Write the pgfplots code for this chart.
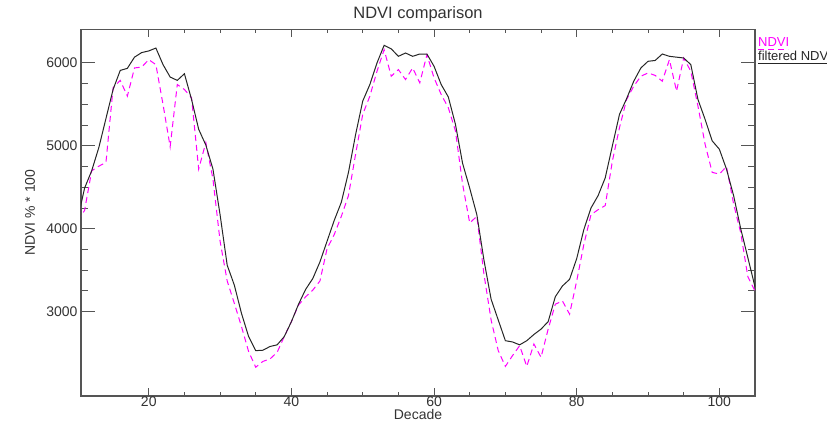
\documentclass[border=0pt]{standalone}
\usepackage{pgfplots}
\pgfplotsset{compat=1.18}
\usepackage{fontspec}
\setmainfont{Liberation Sans}
\definecolor{axgray}{RGB}{85,85,85}
\definecolor{ndvimag}{RGB}{255,0,255}

% filtered NDVI (black line)
\pgfplotstableread{
x y
10 4100
11 4490
12 4700
13 4980
14 5330
15 5680
16 5910
17 5935
18 6070
19 6125
20 6145
21 6180
22 5980
23 5830
24 5790
25 5870
26 5560
27 5200
28 5010
29 4720
30 4170
31 3560
32 3320
33 2980
34 2700
35 2530
36 2535
37 2580
38 2600
39 2700
40 2880
41 3090
42 3270
43 3400
44 3600
45 3850
46 4100
47 4320
48 4680
49 5136
50 5540
51 5740
52 6000
53 6213
54 6170
55 6080
56 6120
57 6080
58 6108
59 6108
60 5960
61 5740
62 5590
63 5260
64 4790
65 4490
66 4170
67 3620
68 3150
69 2900
70 2650
71 2635
72 2600
73 2650
74 2725
75 2790
76 2880
77 3180
78 3310
79 3390
80 3640
81 3990
82 4250
83 4400
84 4614
85 5000
86 5380
87 5570
88 5780
89 5940
90 6020
91 6030
92 6108
93 6080
94 6070
95 6060
96 5980
97 5560
98 5320
99 5060
100 4960
101 4720
102 4400
103 4000
104 3650
105 3300
}\filtered

% raw NDVI (magenta dashed)
\pgfplotstableread{
x y
10 4100
11 4220
12 4700
13 4755
14 4800
15 5700
16 5790
17 5600
18 5940
19 5950
20 6040
21 5980
22 5500
23 4990
24 5740
25 5680
26 5580
27 4720
28 5040
29 4600
30 3850
31 3370
32 3100
33 2820
34 2520
35 2330
36 2400
37 2430
38 2510
39 2700
40 2880
41 3080
42 3180
43 3260
44 3370
45 3760
46 3930
47 4150
48 4400
49 4900
50 5380
51 5600
52 5900
53 6160
54 5840
55 5920
56 5800
57 5940
58 5760
59 6100
60 5820
61 5620
62 5460
63 5180
64 4540
65 4070
66 4150
67 3450
68 2900
69 2530
70 2340
71 2470
72 2590
73 2340
74 2610
75 2450
76 2790
77 3090
78 3130
79 2970
80 3370
81 3810
82 4170
83 4230
84 4280
85 4815
86 5220
87 5560
88 5720
89 5840
90 5880
91 5850
92 5780
93 6040
94 5660
95 6060
96 5900
97 5480
98 5020
99 4680
100 4660
101 4750
102 4300
103 3950
104 3420
105 3250
}\rawndvi

\begin{document}
\begin{tikzpicture}
\useasboundingbox (0,0) rectangle (827pt,421pt);
\begin{axis}[
    at={(81pt,25pt)}, anchor=south west,
    scale only axis,
    width=674pt, height=366.7pt,
    xmin=10.5, xmax=105,
    ymin=1983, ymax=6406,
    xtick={20,40,60,80,100},
    ytick={3000,4000,5000,6000},
    minor x tick num=3,
    minor y tick num=3,
    tick align=inside,
    xtick style={axgray, line width=1pt, /pgfplots/major tick length=8pt, /pgfplots/minor tick length=4pt},
    ytick style={axgray, line width=1pt, /pgfplots/major tick length=14pt, /pgfplots/minor tick length=7pt},
    axis line style={axgray, line width=1.3pt},
    scaled y ticks=false,
    /pgf/number format/1000 sep={},
    /pgf/number format/assume math mode=true,
    tick label style={font=\fontsize{14}{16}\selectfont, text=black!80},
    xticklabel style={yshift=3pt},
    title={NDVI comparison},
    title style={font=\fontsize{16.5}{18}\selectfont, text=black!80, at={(axis description cs:0.5,1)}, anchor=base, yshift=5pt},
    xlabel={Decade},
    ylabel={NDVI \% * 100},
    every axis x label/.style={at={(axis description cs:0.5,0)}, anchor=center, yshift=-18pt, font=\fontsize{14}{16}\selectfont, text=black!80},
    every axis y label/.style={at={(axis description cs:-0.0757,0.5)}, rotate=90, anchor=center, font=\fontsize{14}{16}\selectfont, text=black!80},
]
\addplot[ndvimag, line width=1pt, dash pattern=on 6pt off 4pt] table[x=x, y=y] {\rawndvi};
\addplot[black!85, line width=1pt] table[x=x, y=y] {\filtered};
\end{axis}
% legend outside the box, text underlined by the line sample
\node[anchor=base west, inner sep=0pt, text=ndvimag, font=\fontsize{13}{15}\selectfont] at (758pt,374pt) {NDVI};
\draw[ndvimag, line width=1pt, dash pattern=on 6pt off 4pt] (758pt,371pt) -- (788pt,371pt);
\node[anchor=base west, inner sep=0pt, text=black!85, font=\fontsize{13}{15}\selectfont] at (758pt,360pt) {filtered NDVI};
\draw[black!85, line width=1pt] (758pt,357.5pt) -- (835pt,357.5pt);
\end{tikzpicture}
\end{document}
